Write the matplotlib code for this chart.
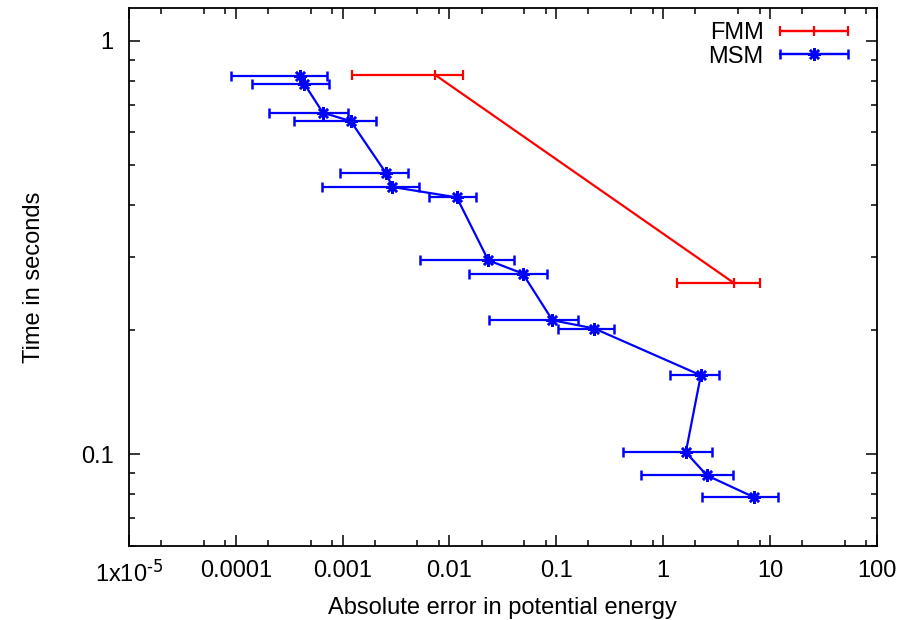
import numpy as np
import matplotlib
matplotlib.use("Agg")
import matplotlib.pyplot as plt
from matplotlib.ticker import FixedLocator, FixedFormatter, LogLocator, NullFormatter
from matplotlib.legend_handler import HandlerErrorbar
from matplotlib.container import ErrorbarContainer

plt.rcParams['font.family'] = ['Liberation Sans', 'DejaVu Sans']
plt.rcParams['mathtext.default'] = 'regular'
plt.rcParams['font.size'] = 17

# FMM runs: error, error range, time
fmm_err = [7.33e-3, 4.65]
fmm_lo = [1.23e-3, 1.34]
fmm_hi = [1.33e-2, 8.09]
fmm_time = [0.827, 0.259]

# MSM runs
msm_err = [3.99e-4, 4.37e-4, 6.52e-4, 1.19e-3, 2.54e-3, 2.92e-3, 0.0117, 0.0231,
           0.0485, 0.0921, 0.2275, 2.254, 1.632, 2.565, 7.11]
msm_lo = [8.95e-5, 1.43e-4, 2.03e-4, 3.53e-4, 9.5e-4, 6.37e-4, 6.4e-3, 5.31e-3,
          0.01535, 0.02366, 0.1047, 1.164, 0.4246, 0.622, 2.333]
msm_hi = [7.10e-4, 7.46e-4, 1.117e-3, 2.06e-3, 4.09e-3, 5.16e-3, 0.01774, 0.0403,
          0.0826, 0.159, 0.3475, 3.345, 2.857, 4.49, 12.0]
msm_time = [0.824, 0.787, 0.670, 0.639, 0.479, 0.443, 0.418, 0.2944,
            0.2735, 0.2109, 0.2014, 0.1552, 0.1011, 0.0889, 0.0787]

xticks = [1e-5, 1e-4, 1e-3, 1e-2, 1e-1, 1, 10, 100]
xticklabels = [r'1x10$^{\text{-5}}$', '0.0001', '0.001', '0.01', '0.1', '1', '10', '100']
yticks = [0.1, 1]
yticklabels = ['0.1', '1']


def xerr(x, lo, hi):
    x = np.array(x)
    return [x - np.array(lo), np.array(hi) - x]


fig = plt.figure(figsize=(9.19, 6.20), dpi=100)
ax = fig.add_axes([0.1404, 0.1194, 0.954 - 0.1404, 0.9871 - 0.1194])

ax.errorbar(fmm_err, fmm_time, xerr=xerr(fmm_err, fmm_lo, fmm_hi), color='#ff0000',
            lw=1.6, elinewidth=1.6, capsize=3.3, capthick=1.6, marker='|',
            ms=7, mew=1.6, label='FMM')
ax.errorbar(msm_err, msm_time, xerr=xerr(msm_err, msm_lo, msm_hi), color='#0000ff',
            lw=1.6, elinewidth=1.6, capsize=3.3, capthick=1.6, marker=(8, 2, 0),
            ms=9, mew=1.8, label='MSM')

ax.set_xscale('log')
ax.set_yscale('log')
ax.set_xlim(1e-5, 100)
ax.set_ylim(0.06, 1.2)

ax.xaxis.set_major_locator(FixedLocator(xticks))
ax.xaxis.set_major_formatter(FixedFormatter(xticklabels))
ax.xaxis.set_minor_locator(LogLocator(base=10, subs=[2, 5, 8]))
ax.xaxis.set_minor_formatter(NullFormatter())
ax.yaxis.set_major_locator(FixedLocator(yticks))
ax.yaxis.set_major_formatter(FixedFormatter(yticklabels))
ax.yaxis.set_minor_locator(LogLocator(base=10, subs=np.arange(2, 10)))
ax.yaxis.set_minor_formatter(NullFormatter())

ax.tick_params(which='both', direction='in', top=True, right=True, width=1.1)
ax.tick_params(which='major', length=8, labelsize=17)
ax.tick_params(which='minor', length=4)
ax.tick_params(axis='x', pad=10)
ax.tick_params(axis='y', pad=11)
for s in ax.spines.values():
    s.set_linewidth(1.3)

ax.set_xlabel('Absolute error in potential energy', fontsize=17, labelpad=8)
ax.set_ylabel('Time in seconds', fontsize=17, labelpad=26)

ax.legend(loc='upper right', bbox_to_anchor=(0.9738, 0.9907), borderaxespad=0,
          frameon=False, markerfirst=False, handlelength=2.88,
          handletextpad=0.68, labelspacing=0.05, fontsize=17,
          handler_map={ErrorbarContainer: HandlerErrorbar(xerr_size=1.44)})

fig.savefig('out.png', dpi=100)
